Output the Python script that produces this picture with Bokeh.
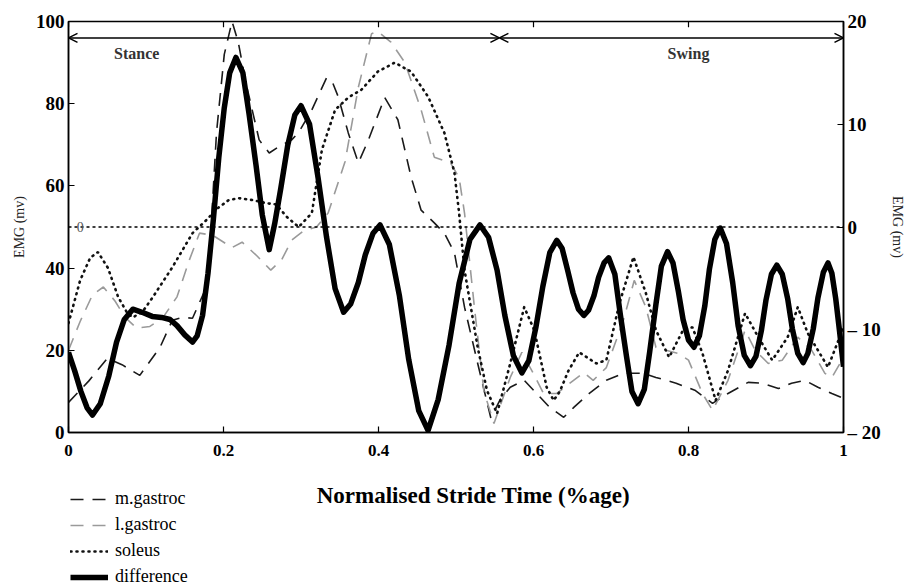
from bokeh.plotting import figure
from bokeh.layouts import column
from bokeh.models import (Range1d, LinearAxis, FixedTicker, Legend, LegendItem,
                          Arrow, OpenHead, Label, Span)
from bokeh.embed import file_html
from bokeh.resources import INLINE

# ---------------- data ----------------
x_ticks = [0, 0.2, 0.4, 0.6, 0.8, 1]
x_tick_labels = ["0", "0.2", "0.4", "0.6", "0.8", "1"]
left_ticks = [0, 20, 40, 60, 80, 100]
right_ticks = [-20, -10, 0, 10, 20]
right_tick_labels = ["\u2013 20", "\u2013 10", "0", "10", "20"]

phase_names = ["Stance", "Swing"]
phase_start = [0.0, 0.556]
phase_end = [0.556, 1.0]
phase_label_x = [0.088, 0.80]

# m.gastroc (left axis, mv)
mg_x = [0.000, 0.026, 0.050, 0.069, 0.092, 0.118, 0.134, 0.147, 0.160, 0.178,
        0.184, 0.191, 0.201, 0.211, 0.219, 0.229, 0.246, 0.259, 0.271, 0.288,
        0.297, 0.314, 0.333, 0.341, 0.348, 0.361, 0.374, 0.387, 0.408, 0.425,
        0.442, 0.455, 0.472, 0.485, 0.498, 0.511, 0.528, 0.545, 0.557, 0.570,
        0.588, 0.604, 0.621, 0.639, 0.652, 0.672, 0.694, 0.716, 0.741, 0.758,
        0.784, 0.809, 0.831, 0.851, 0.877, 0.895, 0.916, 0.933, 0.950, 0.967,
        0.985, 1.000]
mg_y = [7.3, 12.5, 18.0, 16.5, 13.9, 20.7, 27.3, 28.0, 27.8, 35.4,
        50.0, 73.0, 92.0, 100.0, 95.0, 85.0, 71.2, 68.0, 69.5, 71.2,
        73.0, 78.5, 86.3, 85.0, 81.7, 72.9, 65.6, 71.2, 81.5, 76.1,
        62.2, 54.1, 51.0, 48.5, 43.7, 30.5, 16.8, 3.5, 8.0, 11.0,
        12.7, 9.5, 6.1, 3.7, 6.1, 9.5, 12.7, 14.4, 14.4, 13.4,
        12.0, 10.2, 7.1, 9.5, 12.2, 12.0, 10.7, 12.0, 12.7, 11.0,
        9.5, 8.3]

# l.gastroc (left axis, mv)
lg_x = [0.000, 0.015, 0.031, 0.045, 0.060, 0.073, 0.088, 0.105, 0.122, 0.140,
        0.156, 0.169, 0.186, 0.211, 0.224, 0.243, 0.261, 0.275, 0.288, 0.303,
        0.320, 0.335, 0.357, 0.374, 0.391, 0.399, 0.416, 0.434, 0.455, 0.472,
        0.493, 0.504, 0.511, 0.524, 0.536, 0.549, 0.570, 0.585, 0.598, 0.613,
        0.630, 0.647, 0.665, 0.677, 0.694, 0.716, 0.730, 0.745, 0.758, 0.771,
        0.787, 0.800, 0.818, 0.831, 0.851, 0.873, 0.886, 0.903, 0.921, 0.941,
        0.959, 0.976, 0.985, 1.000]
lg_y = [20.0, 27.0, 33.5, 35.4, 32.0, 28.0, 25.4, 25.8, 28.0, 33.0,
        42.0, 48.5, 48.0, 45.0, 46.3, 43.0, 39.5, 42.0, 46.8, 49.0,
        50.0, 53.4, 66.0, 84.0, 97.0, 97.6, 95.0, 90.0, 78.5, 67.0,
        65.6, 62.0, 53.4, 30.0, 10.0, 2.2, 13.4, 19.5, 15.0, 9.5,
        9.5, 12.0, 14.6, 12.7, 15.8, 27.3, 37.0, 30.5, 20.7, 20.0,
        19.2, 17.6, 9.5, 5.4, 12.7, 24.9, 20.0, 16.8, 17.6, 23.2,
        20.0, 14.4, 13.4, 18.3]

# soleus (left axis, mv)
so_x = [0.000, 0.015, 0.028, 0.038, 0.051, 0.064, 0.076, 0.083, 0.096, 0.109,
        0.134, 0.160, 0.178, 0.192, 0.207, 0.220, 0.239, 0.255, 0.268, 0.282,
        0.297, 0.314, 0.327, 0.344, 0.361, 0.378, 0.399, 0.421, 0.442, 0.464,
        0.485, 0.498, 0.504, 0.511, 0.528, 0.540, 0.553, 0.570, 0.588, 0.601,
        0.617, 0.626, 0.634, 0.645, 0.659, 0.681, 0.694, 0.711, 0.729, 0.745,
        0.758, 0.775, 0.793, 0.805, 0.818, 0.835, 0.851, 0.873, 0.890, 0.908,
        0.928, 0.941, 0.954, 0.980, 1.000]
so_y = [26.6, 37.0, 42.5, 43.9, 40.0, 33.0, 29.0, 28.0, 29.5, 33.0,
        40.2, 48.5, 51.7, 54.5, 56.6, 57.0, 56.5, 55.8, 55.5, 52.4,
        50.0, 53.4, 68.8, 78.5, 81.5, 83.4, 87.8, 90.0, 87.8, 81.7,
        72.9, 63.2, 53.4, 39.5, 20.7, 10.2, 4.6, 16.8, 30.5, 24.9,
        11.0, 7.8, 10.0, 15.0, 19.5, 16.8, 17.6, 31.5, 42.7, 33.9,
        24.9, 18.3, 24.9, 25.6, 19.3, 7.8, 15.1, 29.0, 23.2, 17.6,
        23.2, 30.5, 24.1, 15.9, 25.6]

# difference (right axis, mv)
df_x = [0.000, 0.008, 0.016, 0.024, 0.031,
        0.041, 0.052, 0.062, 0.072, 0.083,
        0.095, 0.108, 0.120, 0.131, 0.140, 0.150, 0.160,
        0.166, 0.173, 0.180, 0.187, 0.194, 0.201, 0.208, 0.216,
        0.225, 0.233, 0.242, 0.250, 0.259,
        0.266, 0.274, 0.283, 0.292, 0.300,
        0.311, 0.322, 0.333, 0.344, 0.355,
        0.364, 0.374, 0.383, 0.393, 0.402,
        0.414, 0.427, 0.439, 0.452, 0.464,
        0.477, 0.491, 0.504, 0.518, 0.531,
        0.542, 0.553, 0.563, 0.574, 0.585,
        0.594, 0.603, 0.612, 0.621, 0.630,
        0.637, 0.644, 0.651, 0.658, 0.665,
        0.671, 0.678, 0.684, 0.691, 0.697,
        0.705, 0.712, 0.720, 0.727, 0.735,
        0.743, 0.750, 0.758, 0.765, 0.773,
        0.780, 0.787, 0.793, 0.800, 0.807,
        0.814, 0.821, 0.827, 0.834, 0.841,
        0.849, 0.857, 0.864, 0.872, 0.880,
        0.887, 0.894, 0.900, 0.907, 0.914,
        0.921, 0.928, 0.934, 0.941, 0.948,
        0.954, 0.961, 0.967, 0.974, 0.980,
        0.985, 0.990, 0.995, 1.000]
df_y = [-12.2, -14.0, -16.0, -17.6, -18.3,
        -17.2, -14.5, -11.2, -9.0, -8.0,
        -8.3, -8.7, -8.8, -9.0, -9.6, -10.5, -11.2,
        -10.6, -8.6, -4.5, 0.8, 6.8, 11.6, 15.0, 16.5,
        15.0, 11.0, 6.0, 1.2, -2.2,
        0.3, 3.8, 8.0, 10.9, 11.8,
        10.0, 4.8, -1.0, -6.0, -8.3,
        -7.5, -5.4, -2.7, -0.6, 0.2,
        -1.7, -6.7, -12.9, -17.9, -19.8,
        -16.8, -11.5, -5.5, -1.2, 0.2,
        -1.0, -4.2, -8.6, -12.5, -14.2,
        -13.0, -9.8, -5.8, -2.5, -1.3,
        -2.1, -4.2, -6.4, -8.0, -8.6,
        -8.1, -6.7, -4.9, -3.5, -3.0,
        -4.6, -8.5, -12.6, -16.0, -17.2,
        -15.8, -12.1, -7.5, -3.8, -2.4,
        -3.5, -6.3, -9.0, -11.0, -11.7,
        -10.6, -7.7, -4.1, -1.2, -0.1,
        -1.6, -5.4, -9.6, -12.5, -13.5,
        -12.6, -10.1, -7.1, -4.6, -3.7,
        -4.6, -7.0, -9.9, -12.3, -13.2,
        -12.3, -9.9, -6.9, -4.4, -3.5,
        -4.5, -7.0, -10.2, -13.6]

legend_names = ["m.gastroc", "l.gastroc", "soleus", "difference"]
x_title = "Normalised Stride Time (%age)"
y_title = "EMG (mv)"

# ---------------- styles ----------------
SERIF = "Liberation Serif"
STYLES = [
    dict(line_color="#1a1a1a", line_width=1.6, line_dash="13 9"),
    dict(line_color="#9a9a9a", line_width=1.6, line_dash="13 9"),
    dict(line_color="#111111", line_width=2.6, line_dash="1 5", line_cap="round"),
    dict(line_color="black", line_width=5.5, line_join="round"),
]

# ---------------- main figure ----------------
p = figure(width=907, height=480, output_backend="svg", toolbar_location=None,
           x_range=Range1d(0, 1), y_range=Range1d(0, 100),
           min_border_left=68, min_border_right=58, min_border_top=21,
           min_border_bottom=48, background_fill_color="white",
           border_fill_color="white")
p.extra_y_ranges = {"right": Range1d(-20, 20)}
p.grid.visible = False
p.outline_line_color = "black"
p.outline_line_width = 1.5


def style_axis(ax, size="18px"):
    ax.major_tick_in = 6
    ax.major_tick_out = 0
    ax.minor_tick_in = 0
    ax.minor_tick_out = 0
    ax.axis_line_color = "black"
    ax.axis_line_width = 1.5
    ax.major_tick_line_color = "black"
    ax.major_tick_line_width = 1.2
    ax.major_label_text_font = SERIF
    ax.major_label_text_font_style = "bold"
    ax.major_label_text_font_size = size
    ax.major_label_text_color = "black"


xa = p.xaxis[0]
xa.ticker = FixedTicker(ticks=x_ticks)
xa.major_label_overrides = {t: l for t, l in zip(x_ticks, x_tick_labels)}
style_axis(xa, "17px")
xa.major_label_standoff = 12

ya = p.yaxis[0]
ya.ticker = FixedTicker(ticks=left_ticks)
style_axis(ya, "19px")
ya.major_label_standoff = 4
ya.axis_label = y_title
ya.axis_label_text_font = SERIF
ya.axis_label_text_font_style = "normal"
ya.axis_label_text_font_size = "14px"
ya.axis_label_text_color = "#222222"
ya.axis_label_standoff = 6

ra = LinearAxis(y_range_name="right", ticker=FixedTicker(ticks=right_ticks))
ra.major_label_overrides = {t: l for t, l in zip(right_ticks, right_tick_labels)}
style_axis(ra, "19px")
ra.major_label_standoff = 4
ra.axis_label = y_title
ra.axis_label_text_font = SERIF
ra.axis_label_text_font_style = "normal"
ra.axis_label_text_font_size = "14px"
ra.axis_label_text_color = "#222222"
ra.axis_label_standoff = 6
p.add_layout(ra, "right")

# inner tick marks along the top edge of the frame
p.segment(x0=x_ticks, y0=[100] * len(x_ticks), x1=x_ticks,
          y1=[98.6] * len(x_ticks), line_color="black", line_width=1.2)

# zero line of the difference axis
p.add_layout(Span(location=0, y_range_name="right", dimension="width",
                  line_color="black", line_width=1.5, line_dash="3 3"))
p.add_layout(Label(x=0.015, y=0, y_range_name="right", text="0", text_font=SERIF,
                   text_font_size="14px", text_color="#555555",
                   text_align="center", text_baseline="middle"))

# series
p.line(mg_x, mg_y, **STYLES[0])
p.line(lg_x, lg_y, **STYLES[1])
p.line(so_x, so_y, **STYLES[2])
p.line(df_x, df_y, y_range_name="right", **STYLES[3])

# phase arrows
for s, e in zip(phase_start, phase_end):
    p.add_layout(Arrow(start=OpenHead(size=9, line_width=1.5),
                       end=OpenHead(size=9, line_width=1.5),
                       x_start=s, y_start=96, x_end=e, y_end=96,
                       line_color="black", line_width=1.5))
for name, lx in zip(phase_names, phase_label_x):
    p.add_layout(Label(x=lx, y=92.2, text=name, text_font=SERIF,
                       text_font_style="bold", text_font_size="16px",
                       text_color="#333333", text_align="center",
                       text_baseline="middle"))

# ---------------- lower strip: legend and x title ----------------
# (its frame lines up with the main frame; its ranges are in page pixels)
p2 = figure(width=907, height=108, output_backend="svg", toolbar_location=None,
            x_range=Range1d(68, 849), y_range=Range1d(0, 108),
            x_axis_type=None, y_axis_type=None,
            min_border_left=68, min_border_right=58, min_border_top=0,
            min_border_bottom=0, background_fill_color="white",
            border_fill_color="white")
p2.grid.visible = False
p2.outline_line_color = None

# one-point stubs: they draw nothing but give the legend its line samples
legend_renderers = [p2.line([0], [0], **st) for st in STYLES]

p2.add_layout(Label(x=476, y=93, text=x_title, text_font=SERIF,
                    text_font_style="bold", text_font_size="23px",
                    text_color="black", text_align="center",
                    text_baseline="middle"))

legend = Legend(items=[LegendItem(label=n, renderers=[r]) for n, r in
                       zip(legend_names, legend_renderers)],
                location=(2, 1), orientation="vertical",
                glyph_width=38, glyph_height=20, label_height=20, label_width=60,
                label_standoff=7, spacing=5, padding=0, margin=0,
                border_line_color=None, background_fill_alpha=0,
                label_text_font=SERIF, label_text_font_size="18px",
                label_text_color="black")
p2.add_layout(legend, "center")

layout = column(p, p2, spacing=0)
open("out.html", "w").write(file_html(layout, INLINE))
